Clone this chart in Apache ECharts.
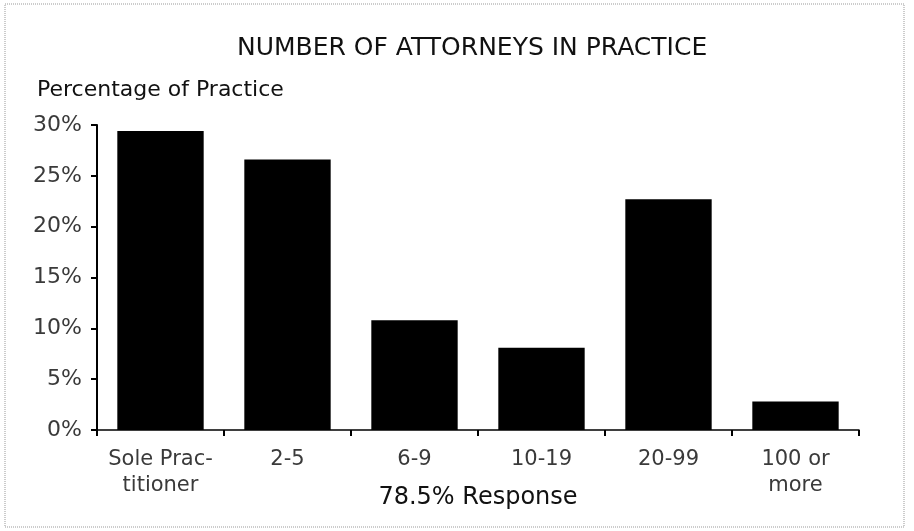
<!DOCTYPE html>
<html>
<head>
<meta charset="utf-8" />
<title>Number of Attorneys in Practice</title>
<script src="https://cdn.jsdelivr.net/npm/echarts@6/dist/echarts.min.js"></script>
<style>
  html, body { margin: 0; padding: 0; background: #fff; }
  #main { width: 914px; height: 531px; }
</style>
</head>
<body>
<div id="main"></div>
<script>
// firm size categories and share of respondents (%)
var categories = ['Sole Prac-\ntitioner', '2-5', '6-9', '10-19', '20-99', '100 or\nmore'];
var percentages = [29.4, 26.6, 10.8, 8.1, 22.7, 2.8];
var yTicks = { min: 0, max: 30, step: 5 };

var chart = echarts.init(document.getElementById('main'));
var font = 'DejaVu Sans';

var option = {
  backgroundColor: '#fff',
  animation: false,
  graphic: [{
    type: 'rect',
    shape: { x: 5, y: 4, width: 899, height: 523 },
    style: { fill: 'none', stroke: '#999', lineWidth: 1, lineDash: [1, 1] }
  }],
  title: [{
    text: 'NUMBER OF ATTORNEYS IN PRACTICE',
    left: 232,
    top: 31,
    textStyle: { fontFamily: font, fontSize: 25, fontWeight: 'normal', color: '#111' }
  }, {
    text: 'Percentage of Practice',
    left: 32,
    top: 74,
    textStyle: { fontFamily: font, fontSize: 22, fontWeight: 'normal', color: '#111' }
  }],
  grid: { left: 97, right: 55, top: 125, bottom: 101 },
  xAxis: {
    type: 'category',
    data: categories,
    name: '78.5% Response',
    nameLocation: 'middle',
    nameGap: 56,
    nameMoveOverlap: false,
    nameTextStyle: { fontFamily: font, fontSize: 24, color: '#111' },
    axisLine: { lineStyle: { color: '#000', width: 1.5 } },
    axisTick: { show: true, interval: 0, length: 6, lineStyle: { color: '#000', width: 2 } },
    axisLabel: { interval: 0, hideOverlap: false, fontFamily: font, fontSize: 21, color: '#3a3a3a', margin: 17, lineHeight: 26 }
  },
  yAxis: {
    type: 'value',
    min: yTicks.min,
    max: yTicks.max,
    interval: yTicks.step,
    splitLine: { show: false },
    axisLine: { show: true, lineStyle: { color: '#000', width: 2 } },
    axisTick: { show: true, length: 6, lineStyle: { color: '#000', width: 2 } },
    axisLabel: { fontFamily: font, fontSize: 22, color: '#3a3a3a', margin: 15, formatter: '{value}%' }
  },
  series: [{
    type: 'bar',
    data: percentages,
    barCategoryGap: '32%',
    itemStyle: { color: '#000' }
  }]
};

chart.setOption(option);
</script>
</body>
</html>
